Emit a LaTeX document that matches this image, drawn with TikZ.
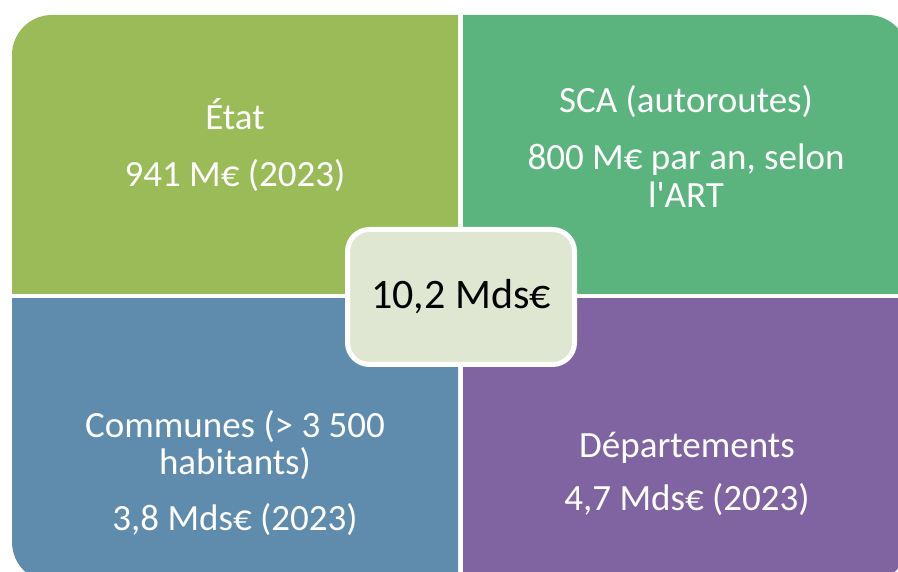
\documentclass[tikz,border=0pt]{standalone}
\usepackage{fontspec}
\setmainfont{Carlito}[Ligatures=TeXOff]
\usetikzlibrary{positioning}

\definecolor{etatgreen}{HTML}{9BBB59}
\definecolor{scagreen}{HTML}{5BB37D}
\definecolor{communesblue}{HTML}{5F8BAD}
\definecolor{deptpurple}{HTML}{8064A2}
\definecolor{totalfill}{HTML}{DFE7D2}

\begin{document}
\begin{tikzpicture}[x=1pt, y=-1pt,
    every node/.style={font=\fontsize{37}{38}\selectfont, align=center},
    quadtext/.style={text=white, anchor=base}]

    \useasboundingbox (0,0) rectangle (898,572);
    \clip (0,0) rectangle (898,572);

    % les quatre quarts, taillés dans un seul cadre arrondi
    \foreach \xa/\ya/\xb/\yb/\col in {12/15/458/294/etatgreen, 463/15/908/294/scagreen,
                                      12/299/458/582/communesblue, 463/299/908/582/deptpurple}{
        \begin{scope}
            \clip (\xa,\ya) rectangle (\xb,\yb);
            \fill[\col, rounded corners=40pt] (12,15) rectangle (908,582);
        \end{scope}
    }

    % haut gauche
    \node[quadtext] (etat) at (235,130) {État};
    \node[quadtext] (etatval) at (235,187) {941 M€ (2023)};

    % haut droite (base = dernière ligne)
    \node[quadtext] (sca) at (686,113) {SCA (autoroutes)};
    \node[quadtext] (scaval) at (686,208) {800 M€ par an, selon\\l'ART};

    % bas gauche
    \node[quadtext] (communes) at (235,475) {Communes (> 3 500\\habitants)};
    \node[quadtext] (communesval) at (235,530) {3,8 Mds€ (2023)};

    % bas droite
    \node[quadtext] (dept) at (687,457) {Départements};
    \node[quadtext] (deptval) at (687,510) {4,7 Mds€ (2023)};

    % total au centre
    \node[draw=white, line width=5pt, fill=totalfill, rounded corners=22pt,
          minimum width=227pt, minimum height=135pt,
          font=\fontsize{42}{44}\selectfont] (total) at (461,297) {10,2 Mds€};

\end{tikzpicture}
\end{document}
